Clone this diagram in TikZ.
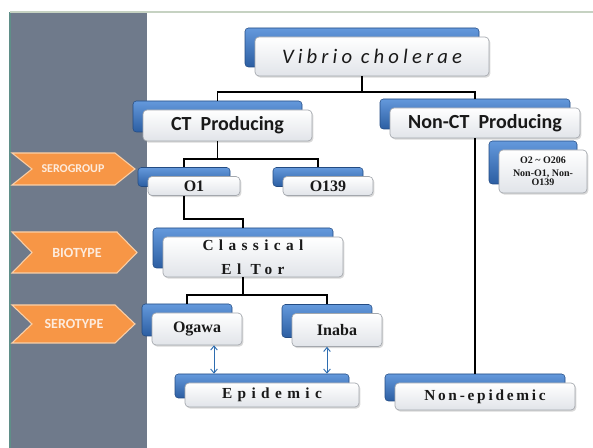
\documentclass[tikz,border=0pt]{standalone}
\usepackage{fontspec}
\setmainfont{Liberation Serif}
\newfontfamily\calfont{Carlito}
\newfontfamily\vcfont[LetterSpace=20]{Carlito}
\newfontfamily\wideserif[LetterSpace=35]{Liberation Serif}
\newfontfamily\midserif[LetterSpace=18]{Liberation Serif}
\usetikzlibrary{shadows,arrows.meta}
\definecolor{panelgray}{HTML}{6F7A8B}
\definecolor{paneledge}{HTML}{5F8E88}
\definecolor{topline}{HTML}{C6D2C2}
\definecolor{chevorange}{HTML}{F79646}
\definecolor{chevedge}{HTML}{FBCFA6}
\definecolor{chevtext}{HTML}{FDEBDD}
\definecolor{bluetop}{HTML}{6499DC}
\definecolor{bluebot}{HTML}{2C5EA2}
\definecolor{frontbot}{HTML}{E1E4E9}
\definecolor{frontedge}{HTML}{A3A7AD}
\definecolor{arrowblue}{HTML}{2E6DB0}
\begin{document}
\begin{tikzpicture}[x=0.75pt,y=0.75pt,yscale=-1,xscale=1,
	backbox/.style={rounded corners=2.5pt,top color=bluetop,bottom color=bluebot,draw=bluebot!80!black,line width=0.4pt,inner sep=0pt},
	frontbox/.style={rounded corners=3pt,top color=white,bottom color=frontbot,draw=frontedge,line width=0.5pt,inner sep=0pt,text=black!90,
		drop shadow={opacity=0.3,shadow xshift=1pt,shadow yshift=-1.2pt}},
	chevron/.style={fill=chevorange,draw=chevedge,line width=0.8pt},
	chevlabel/.style={text=chevtext,inner sep=0pt},
	conn/.style={line width=1.35pt,black},
	dblarrow/.style={arrowblue,line width=0.7pt,{Straight Barb[length=3pt,width=5pt]}-{Straight Barb[length=3pt,width=5pt]}}]
\useasboundingbox (0,0) rectangle (593,448);

% Left panel
\fill[panelgray] (10,12) rectangle (147,448);
\draw[paneledge,line width=0.8pt] (10,12) -- (10,448);
\draw[topline,line width=0.8pt] (10,12) -- (593,12);

% Chevrons
\draw[chevron] (12,153) -- (115,153) -- (135,169) -- (115,185) -- (12,185) -- (32,169) -- cycle;
\draw[chevron] (12,232) -- (117,232) -- (137,252.5) -- (117,273) -- (12,273) -- (32,252.5) -- cycle;
\draw[chevron] (12,305) -- (115,305) -- (135,324) -- (115,343) -- (12,343) -- (32,324) -- cycle;
% Text Node
\node[chevlabel,font=\calfont\bfseries\fontsize{9}{10}\selectfont] (sg) at (73,169) {SEROGROUP};
% Text Node
\node[chevlabel,font=\calfont\bfseries\fontsize{10.5}{12}\selectfont] (bt) at (77,253) {BIOTYPE};
% Text Node
\node[chevlabel,font=\calfont\bfseries\fontsize{10.5}{12}\selectfont] (st) at (74,324) {SEROTYPE};

% Vibrio cholerae
\node[backbox,minimum width=175.5pt,minimum height=29.25pt] (vcb) at (362,47.5) {};
\node[frontbox,minimum width=175.5pt,minimum height=29.25pt,font=\vcfont\itshape\fontsize{15.5}{18}\selectfont] (vc) at (372,56.5) {Vibrio cholerae};

% CT Producing
\node[backbox,minimum width=126.75pt,minimum height=23.25pt] (ctb) at (217.5,116.5) {};
\node[frontbox,minimum width=126.75pt,minimum height=23.25pt,font=\calfont\bfseries\fontsize{15}{18}\selectfont] (ct) at (227.5,125.5) {CT\ \ Producing};

% Non-CT Producing
\node[backbox,minimum width=142.5pt,minimum height=22.5pt] (nctb) at (475,114) {};
\node[frontbox,minimum width=142.5pt,minimum height=22.5pt,font=\calfont\bfseries\fontsize{15}{18}\selectfont] (nct) at (485,123) {Non-CT\ \ Producing};

% O2 ~ O206
\node[backbox,minimum width=66pt,minimum height=32.25pt] (o2b) at (533,162.5) {};
\node[frontbox,minimum width=66pt,minimum height=32.25pt,align=center,font=\bfseries\fontsize{7.5}{6.8}\selectfont] (o2) at (543,171.5) {O2 \textasciitilde\ O206\\[3pt]Non-O1, Non-\\O139};

% O1
\node[backbox,minimum width=69pt,minimum height=14.25pt] (o1b) at (184,177) {};
\node[frontbox,minimum width=69pt,minimum height=14.25pt,font=\bfseries\fontsize{12}{14}\selectfont] (o1) at (194,186) {O1};

% O139
\node[backbox,minimum width=67.5pt,minimum height=14.25pt] (o139b) at (318,177) {};
\node[frontbox,minimum width=67.5pt,minimum height=14.25pt,font=\bfseries\fontsize{12}{14}\selectfont] (o139) at (328,186) {O139};

% Classical / El Tor
\node[backbox,minimum width=135pt,minimum height=30pt] (clb) at (243,248) {};
\node[frontbox,minimum width=135pt,minimum height=30pt,align=center,font=\wideserif\bfseries\fontsize{11.5}{18}\selectfont] (cl) at (253,257) {Classical\\El Tor};

% Ogawa
\node[backbox,minimum width=67.5pt,minimum height=24pt] (ogb) at (187,320) {};
\node[frontbox,minimum width=67.5pt,minimum height=24pt,font=\bfseries\fontsize{12}{14}\selectfont] (og) at (197,329) {Ogawa};

% Inaba
\node[backbox,minimum width=67.5pt,minimum height=24.75pt] (inb) at (327,321) {};
\node[frontbox,minimum width=67.5pt,minimum height=24.75pt,font=\bfseries\fontsize{12}{14}\selectfont] (in) at (337,330) {Inaba};

% Epidemic
\node[backbox,minimum width=130.5pt,minimum height=18pt] (epb) at (262,386) {};
\node[frontbox,minimum width=130.5pt,minimum height=18pt,font=\wideserif\bfseries\fontsize{11.5}{14}\selectfont] (ep) at (272,395) {Epidemic};

% Non-epidemic
\node[backbox,minimum width=135pt,minimum height=20.25pt] (neb) at (475,387.5) {};
\node[frontbox,minimum width=135pt,minimum height=20.25pt,font=\midserif\bfseries\fontsize{11.5}{14}\selectfont] (ne) at (485,396.5) {Non-epidemic};

%Straight Lines
\draw[conn] (vcb |- vc.south) -- ++(0,16) -| (ctb.north);
\draw[conn] (vcb |- vc.south) -- ++(0,16) -| (nctb.north);
\draw[conn] (ctb |- ct.south) -- ++(0,18) -| (o1b.north);
\draw[conn] (ctb |- ct.south) -- ++(0,18) -| (o139b.north);
\draw[conn] (o1b |- o1.south) -- ++(0,23.5) -| (clb.north);
\draw[conn] (clb |- cl.south) -- ++(0,18) -| (ogb.north);
\draw[conn] (clb |- cl.south) -- ++(0,18) -| (inb.north);
\draw[conn] (nctb |- nct.south) -- (neb.north);

%Arrows
\coordinate (ogx) at ([xshift=12.75pt]og.south);
\draw[dblarrow] (ogx) -- (ogx |- epb.north);
\draw[dblarrow] (inb |- in.south) -- (inb |- epb.north);

\end{tikzpicture}
\end{document}
